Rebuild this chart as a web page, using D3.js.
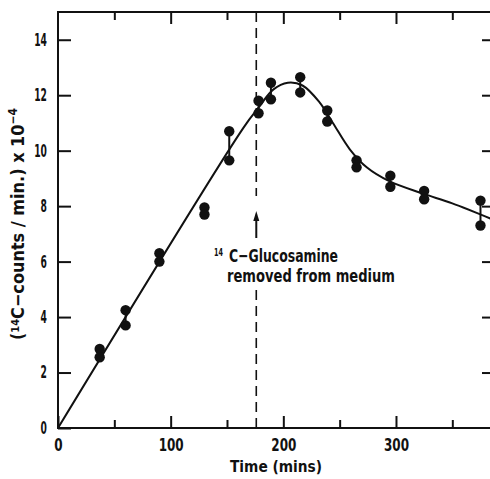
<!DOCTYPE html>
<html>
<head>
<meta charset="utf-8">
<script src="https://cdn.jsdelivr.net/npm/d3@7"></script>
<style>
  body { margin: 0; background: #fff; }
  text { font-family: "DejaVu Sans Condensed", "DejaVu Sans", sans-serif; font-weight: bold; fill: #111; }
</style>
</head>
<body>
<div id="chart"></div>
<script>
// Measured points (two replicates per time)
var times = [37, 60, 90, 130, 152, 178, 189, 215, 239, 265, 295, 325, 375];
var countsHigh = [2.85, 4.25, 6.3, 7.95, 10.7, 11.8, 12.45, 12.65, 11.45, 9.65, 9.1, 8.55, 8.2];
var countsLow = [2.55, 3.7, 6.0, 7.7, 9.65, 11.35, 11.85, 12.1, 11.05, 9.4, 8.7, 8.25, 7.3];

// Fitted curve
var curveTimes = [0, 165, 178, 191, 204, 217, 232, 244, 259, 274, 294, 324, 350, 387];
var curveCounts = [0, 10.85, 11.55, 12.2, 12.45, 12.35, 11.75, 11.0, 10.05, 9.4, 8.9, 8.45, 8.1, 7.5];

var xMajor = [0, 100, 200, 300];
var xMinor = [50, 150, 250, 350];
var yTicks = [0, 2, 4, 6, 8, 10, 12, 14];
var removedAt = 176;

var svgWidth = 490;
var svgHeight = 479;

var svg = d3.select("#chart")
    .append("svg")
    .attr("width", svgWidth)
    .attr("height", svgHeight);

var x = d3.scaleLinear().domain([0, 387]).range([58, 494]);
var y = d3.scaleLinear().domain([0, 15]).range([428, 12]);

//Squeeze text horizontally to mimic the narrow lettering
function squeeze(sel, factor) {
    sel.each(function() {
        var w = this.getComputedTextLength();
        d3.select(this)
            .attr("textLength", w * factor)
            .attr("lengthAdjust", "spacingAndGlyphs");
    });
}

//Frame
svg.append("rect")
    .attr("x", x(0))
    .attr("y", y(15))
    .attr("width", x(387) - x(0))
    .attr("height", y(0) - y(15))
    .attr("fill", "none")
    .attr("stroke", "#111")
    .attr("stroke-width", 2);

//Axes with inward ticks
function styleAxis(g) {
    g.select(".domain").remove();
    g.selectAll("line").attr("stroke", "#111").attr("stroke-width", 2);
}

svg.append("g")
    .attr("transform", `translate(0, ${y(0)})`)
    .call(d3.axisBottom(x).tickValues(xMajor).tickSize(-12).tickPadding(10).tickFormat(d3.format("d")))
    .call(styleAxis)
    .selectAll("text")
    .attr("font-size", 18)
    .attr("font-family", null)
    .call(squeeze, 0.74);

svg.append("g")
    .attr("transform", `translate(0, ${y(0)})`)
    .call(d3.axisBottom(x).tickValues(xMinor).tickSize(-8).tickFormat(""))
    .call(styleAxis);

svg.append("g")
    .attr("transform", `translate(0, ${y(15)})`)
    .call(d3.axisTop(x).tickValues(xMajor.slice(1)).tickSize(-12).tickFormat(""))
    .call(styleAxis);

svg.append("g")
    .attr("transform", `translate(0, ${y(15)})`)
    .call(d3.axisTop(x).tickValues(xMinor).tickSize(-8).tickFormat(""))
    .call(styleAxis);

svg.append("g")
    .attr("transform", `translate(${x(0)}, 0)`)
    .call(d3.axisLeft(y).tickValues(yTicks).tickSize(-13).tickPadding(11))
    .call(styleAxis)
    .selectAll("text")
    .attr("font-size", 17)
    .attr("font-family", null)
    .call(squeeze, 0.6);

svg.append("g")
    .attr("transform", `translate(${x(387)}, 0)`)
    .call(d3.axisRight(y).tickValues(yTicks.slice(1)).tickSize(-12).tickFormat(""))
    .call(styleAxis);

//Removal marker: dashed line, arrow and note
svg.append("line")
    .attr("x1", x(removedAt)).attr("x2", x(removedAt))
    .attr("y1", y(15)).attr("y2", 196)
    .attr("stroke", "#111").attr("stroke-width", 1.6)
    .attr("stroke-dasharray", "10,6");

svg.append("line")
    .attr("x1", x(removedAt)).attr("x2", x(removedAt))
    .attr("y1", 290).attr("y2", y(0))
    .attr("stroke", "#111").attr("stroke-width", 1.6)
    .attr("stroke-dasharray", "10,6");

svg.append("line")
    .attr("x1", x(removedAt)).attr("x2", x(removedAt))
    .attr("y1", 238).attr("y2", 218)
    .attr("stroke", "#111").attr("stroke-width", 2);

svg.append("path")
    .attr("d", `M${x(removedAt)},211 l-3,10 l6,0 z`)
    .attr("fill", "#111");

svg.append("text")
    .attr("x", 214)
    .attr("y", 256)
    .attr("font-size", 11)
    .attr("textLength", 9)
    .attr("lengthAdjust", "spacingAndGlyphs")
    .text("14");

svg.append("text")
    .attr("x", 229)
    .attr("y", 262)
    .attr("font-size", 18)
    .attr("textLength", 109)
    .attr("lengthAdjust", "spacingAndGlyphs")
    .text("C\u2212Glucosamine");

svg.append("text")
    .attr("x", 227)
    .attr("y", 282)
    .attr("font-size", 18)
    .attr("textLength", 168)
    .attr("lengthAdjust", "spacingAndGlyphs")
    .text("removed from medium");

//Fitted curve
var curveData = curveTimes.map((t, i) => [t, curveCounts[i]]);
svg.append("path")
    .datum(curveData)
    .attr("d", d3.line().x(d => x(d[0])).y(d => y(d[1])).curve(d3.curveCatmullRom.alpha(0.5)))
    .attr("fill", "none")
    .attr("stroke", "#111")
    .attr("stroke-width", 2);

//Replicate pairs joined by a short bar
svg.selectAll(".pair")
    .data(times)
    .enter()
    .append("line")
    .attr("x1", d => x(d)).attr("x2", d => x(d))
    .attr("y1", (d, i) => y(countsHigh[i]))
    .attr("y2", (d, i) => y(countsLow[i]))
    .attr("stroke", "#111").attr("stroke-width", 2);

var points = [];
times.forEach((t, i) => {
    points.push([t, countsHigh[i]]);
    points.push([t, countsLow[i]]);
});

svg.selectAll("circle")
    .data(points)
    .enter()
    .append("circle")
    .attr("cx", d => x(d[0]))
    .attr("cy", d => y(d[1]))
    .attr("r", 5.2)
    .attr("fill", "#111");

//Axis titles
svg.append("text")
    .attr("x", 230)
    .attr("y", 472)
    .attr("font-size", 16)
    .attr("textLength", 92)
    .attr("lengthAdjust", "spacingAndGlyphs")
    .text("Time (mins)");

var yLabel = svg.append("text")
    .attr("transform", "translate(24, 340) rotate(-90)")
    .attr("font-size", 18)
    .attr("textLength", 232)
    .attr("lengthAdjust", "spacingAndGlyphs");
yLabel.append("tspan").text("(");
yLabel.append("tspan").attr("font-size", 11).attr("dy", -5).text("14");
yLabel.append("tspan").attr("dy", 5).text("C\u2212counts / min.)   x   10");
yLabel.append("tspan").attr("font-size", 12).attr("dy", -7).text("\u22124");
</script>
</body>
</html>
